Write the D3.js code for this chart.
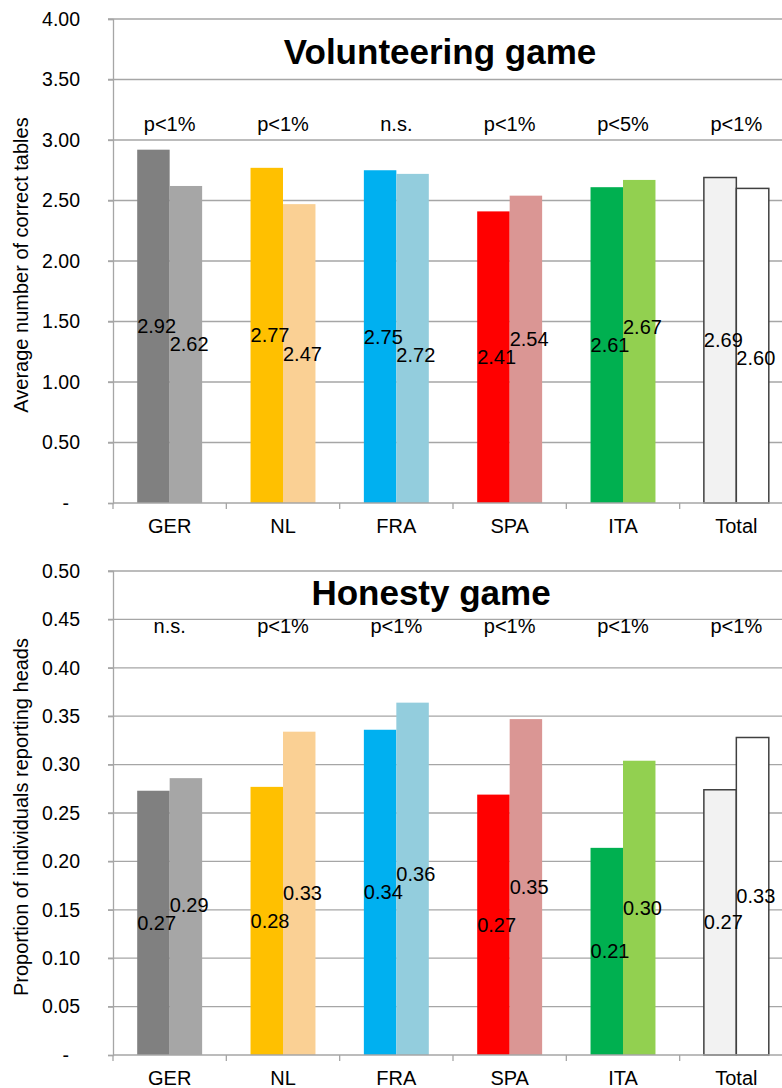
<!DOCTYPE html>
<html>
<head>
<meta charset="utf-8">
<script src="https://cdn.jsdelivr.net/npm/d3@7"></script>
<style>
  body { margin: 0; background: #fff; }
  svg { display: block; font-family: "Liberation Sans", Arial, sans-serif; }
</style>
</head>
<body>
<svg id="chart" width="782" height="1088"></svg>
<script>
// data
var countries = ["GER", "NL", "FRA", "SPA", "ITA", "Total"];
var colorsDark = ["#808080", "#FFC000", "#00B0F0", "#FF0000", "#00B050", "#F2F2F2"];
var colorsLight = ["#A6A6A6", "#FAD094", "#93CDDD", "#DA9694", "#92D050", "#FFFFFF"];

var volunteerA = [2.92, 2.77, 2.75, 2.41, 2.61, 2.69];
var volunteerB = [2.62, 2.47, 2.72, 2.54, 2.67, 2.60];
var volunteerSig = ["p<1%", "p<1%", "n.s.", "p<1%", "p<5%", "p<1%"];
var volunteerTicks = [0, 0.5, 1, 1.5, 2, 2.5, 3, 3.5, 4];

var honestyA = [0.273, 0.277, 0.336, 0.269, 0.214, 0.274];
var honestyB = [0.286, 0.334, 0.364, 0.347, 0.304, 0.328];
var honestySig = ["n.s.", "p<1%", "p<1%", "p<1%", "p<1%", "p<1%"];
var honestyTicks = [0, 0.05, 0.1, 0.15, 0.2, 0.25, 0.3, 0.35, 0.4, 0.45, 0.5];

var svg = d3.select("#chart");
var gridColor = "#a6a6a6";
var minGap = 18; // labels of a pair are kept at least this far apart

function drawPanel(o) {
  var g = svg.append("g");

  var x = d3.scaleBand()
      .domain(countries)
      .range([113, 793])
      .padding(0);

  var bw = x.bandwidth();
  var x1 = d3.scaleBand()
      .domain([0, 1])
      .range([bw * 0.2135, bw * 0.7865])
      .padding(0);

  var y = d3.scaleLinear()
      .domain([0, o.max])
      .range([o.bottom, o.top]);

  // gridlines
  g.append("g").selectAll("line")
    .data(o.ticks.filter(function(d) { return d > 0; }))
    .enter().append("line")
      .attr("x1", 108).attr("x2", 800)
      .attr("y1", function(d) { return y(d); })
      .attr("y2", function(d) { return y(d); })
      .attr("stroke", gridColor)
      .attr("stroke-width", 1.3);

  // y axis
  var yAxis = g.append("g")
      .attr("transform", "translate(113,0)")
      .call(d3.axisLeft(y).tickValues(o.ticks).tickSize(5).tickPadding(28)
        .tickFormat(function(d) { return d === 0 ? "-" : d3.format(".2f")(d); }));
  yAxis.select(".domain").attr("stroke", gridColor).attr("stroke-width", 1.3);
  yAxis.selectAll(".tick line").attr("stroke", gridColor).attr("stroke-width", 1.3);
  yAxis.selectAll("text")
    .style("font-size", "19.5px")
    .attr("fill", "#000")
    .attr("dx", function(d) { return d === 0 ? -11 : 0; });

  // bars
  var rows = countries.map(function(c, i) {
    var ya = y(o.a[i] / 2), yb = y(o.b[i] / 2);
    // nudge second label away from the first when they'd collide
    if (Math.abs(yb - ya) < minGap) yb = ya + (o.b[i] < o.a[i] ? minGap : -minGap);
    return [
      {c: c, k: 0, v: o.a[i], fill: colorsDark[i], ly: ya},
      {c: c, k: 1, v: o.b[i], fill: colorsLight[i], ly: yb}
    ];
  });

  var groups = g.append("g").selectAll("g")
    .data(rows)
    .enter().append("g")
      .attr("transform", function(d) { return "translate(" + x(d[0].c) + ",0)"; });

  groups.selectAll("rect")
    .data(function(d) { return d; })
    .enter().append("rect")
      .attr("x", function(d) { return x1(d.k); })
      .attr("width", x1.bandwidth())
      .attr("y", function(d) { return y(d.v); })
      .attr("height", function(d) { return y(0) - y(d.v); })
      .attr("fill", function(d) { return d.fill; })
      .attr("stroke", function(d) { return d.c === "Total" ? "#404040" : "none"; })
      .attr("stroke-width", 1.5);

  // x axis baseline + ticks
  var xAxis = g.append("g")
      .attr("transform", "translate(0," + o.bottom + ")");
  xAxis.append("line")
    .attr("x1", 113).attr("x2", 800)
    .attr("stroke", gridColor).attr("stroke-width", 1.3);
  xAxis.selectAll(".xt")
    .data(countries)
    .enter().append("line")
      .attr("class", "xt")
      .attr("x1", function(d) { return x(d); })
      .attr("x2", function(d) { return x(d); })
      .attr("y1", 0).attr("y2", 6)
      .attr("stroke", gridColor).attr("stroke-width", 1.3);
  xAxis.selectAll(".xl")
    .data(countries)
    .enter().append("text")
      .attr("class", "xl")
      .attr("x", function(d) { return x(d) + bw / 2; })
      .attr("y", 30)
      .attr("text-anchor", "middle")
      .style("font-size", "20px")
      .text(function(d) { return d; });

  // value labels
  groups.selectAll(".val")
    .data(function(d) { return d; })
    .enter().append("text")
      .attr("class", "val")
      .attr("x", function(d) { return x1(d.k); })
      .attr("y", function(d) { return d.ly; })
      .attr("dy", "0.35em")
      .style("font-size", "20px")
      .text(function(d) { return d3.format(".2f")(d.v); });

  // significance labels
  g.append("g").selectAll("text")
    .data(o.sig)
    .enter().append("text")
      .attr("x", function(d, i) { return x(countries[i]) + bw / 2; })
      .attr("y", o.sigY)
      .attr("text-anchor", "middle")
      .style("font-size", "20px")
      .text(function(d) { return d; });

  // title
  g.append("text")
    .attr("x", o.titleX)
    .attr("y", o.titleY)
    .attr("text-anchor", "middle")
    .style("font-size", "35px")
    .style("font-weight", "bold")
    .text(o.title);

  // y label
  g.append("text")
    .attr("transform", "translate(28," + ((o.top + o.bottom) / 2 + 4) + ") rotate(-90)")
    .attr("text-anchor", "middle")
    .style("font-size", "20px")
    .text(o.yLabel);
}

drawPanel({
  a: volunteerA, b: volunteerB, sig: volunteerSig, ticks: volunteerTicks,
  max: 4, top: 19, bottom: 503,
  title: "Volunteering game", titleX: 440, titleY: 64,
  sigY: 131,
  yLabel: "Average number  of correct tables"
});

drawPanel({
  a: honestyA, b: honestyB, sig: honestySig, ticks: honestyTicks,
  max: 0.5, top: 571, bottom: 1055,
  title: "Honesty game", titleX: 431, titleY: 605,
  sigY: 633,
  yLabel: "Proportion of individuals reporting heads"
});
</script>
</body>
</html>
